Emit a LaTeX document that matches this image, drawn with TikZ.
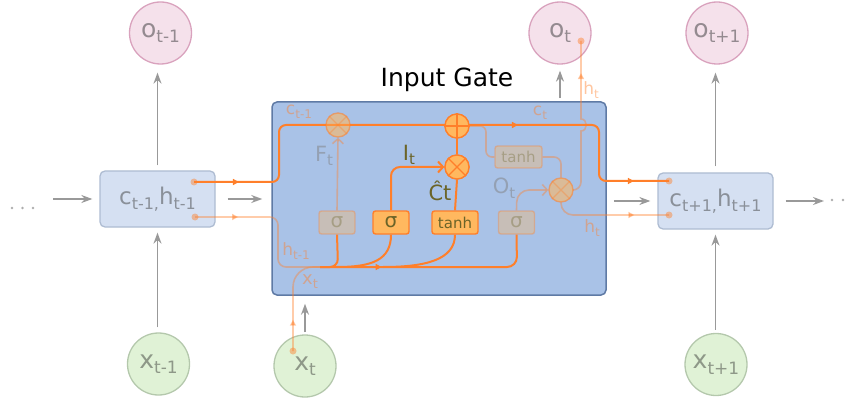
\documentclass[tikz,border=0pt]{standalone}
\usepackage{fontspec}
\setmainfont{DejaVu Sans}
\usetikzlibrary{arrows.meta,decorations.markings}
\definecolor{lstmfill}{HTML}{A9C2E7}
\definecolor{lstmdraw}{HTML}{5F7AA5}
\definecolor{cellfill}{HTML}{D5E0F2}
\definecolor{celldraw}{HTML}{AEBCD2}
\definecolor{celltext}{HTML}{8A9099}
\definecolor{ofill}{HTML}{F5E1EB}
\definecolor{odraw}{HTML}{D9A2BD}
\definecolor{otext}{HTML}{948A90}
\definecolor{xfill}{HTML}{E0F2D6}
\definecolor{xdraw}{HTML}{B4C8AC}
\definecolor{xtext}{HTML}{8E9888}
\definecolor{org}{HTML}{FF7F2A}
\definecolor{orgfill}{HTML}{FFB85F}
\definecolor{olive}{HTML}{6B6428}
\definecolor{arrgray}{HTML}{999999}
\newcommand\fs[1]{\fontsize{#1}{#1}\selectfont}
\newcommand\mysub[2]{\raisebox{-0.22em}{\fs{#1}#2}}
\tikzset{
  garrow/.style={draw=arrgray, line width=1.5pt, -{Stealth[length=11pt,width=8pt]}},
  ocirc/.style={circle, minimum size=62pt, inner sep=0pt, fill=ofill, draw=odraw, line width=1.3pt, text=otext, font=\fs{25}},
  xcirc/.style={circle, minimum size=62pt, inner sep=0pt, fill=xfill, draw=xdraw, line width=1.3pt, text=xtext, font=\fs{25}},
  cellbox/.style={rectangle, rounded corners=5pt, minimum width=115pt, minimum height=56pt, fill=cellfill, draw=celldraw, line width=1.3pt, text=celltext, font=\fs{23}, inner sep=0pt},
  lstm/.style={rectangle, rounded corners=5pt, minimum width=334pt, minimum height=193pt, fill=lstmfill, draw=lstmdraw, line width=1.5pt},
  gatebox/.style={rectangle, rounded corners=2.5pt, minimum height=23pt, inner sep=0pt, fill=orgfill, draw=org, line width=1.4pt, text=olive},
  faded/.style={opacity=0.35},
  opcirc/.style={circle, minimum size=24pt, inner sep=0pt, fill=orgfill, draw=org, line width=1.3pt},
  xmark/.style={draw=org, line width=1.2pt},
  cline/.style={draw=org, line width=2pt},
  fline/.style={draw=org, draw opacity=0.4, fill opacity=0.4, line width=1.6pt},
  dotn/.style={circle, fill=org, fill opacity=0.45, inner sep=0pt, minimum size=7pt},
  openarrow/.style={-{Straight Barb[length=5pt,width=11pt]}},
  mk/.style={postaction={decorate, decoration={markings, mark=at position #1 with {\arrow{Triangle[length=6pt,width=6pt]}}}}},
  flabel/.style={text=org, text opacity=0.45},
  glabel/.style={text=gray, text opacity=0.5},
}
\begin{document}
\begin{tikzpicture}[x=1pt,y=-1pt]
\useasboundingbox (0,0) rectangle (849,401);

% outer nodes
\node[ocirc] (o1) at (160.5,33) {o\mysub{17}{t-1}};
\node[ocirc] (o2) at (560,33) {o\mysub{17}{t}};
\node[ocirc] (o3) at (717,33) {o\mysub{17}{t+1}};
\node[xcirc] (x1) at (158.5,364) {x\mysub{17}{t-1}};
\node[xcirc] (x2) at (305,366) {x\mysub{17}{t}};
\node[xcirc] (x3) at (716,364.5) {x\mysub{17}{t+1}};
\node[cellbox] (c1) at (157.5,199) {c\mysub{16}{t-1,}h\mysub{16}{t-1}};
\node[cellbox] (c2) at (715.5,201) {c\mysub{16}{t+1,}h\mysub{16}{t+1}};
\node[lstm] (L) at (439,198.5) {};
\node[font=\fs{25}] (title) at (447,80) {Input Gate};

% ellipses
\fill[arrgray!80] (12,208) circle (1.4) (22.5,208) circle (1.4) (33,208) circle (1.4);
\fill[arrgray!80] (832,200) circle (1.4) (843,200) circle (1.4);
\coordinate (dl) at (53,199);
\coordinate (dr) at (824,200);

% gray arrows
\draw[garrow, shorten >=7pt] (dl) -- (dl -| c1.west);
\draw[garrow, shorten <=12pt, shorten >=9pt] (c1.east) -- (c1.east -| L.west);
\draw[garrow, shorten <=5pt, shorten >=8pt] (c1.north) -- (c1.north |- o1.south);
\draw[garrow, shorten <=5pt, shorten >=5pt] (x1.north -| c1.south) -- (c1.south);
\draw[garrow, shorten <=7pt, shorten >=7pt] (L.east |- c2.west) -- (c2.west);
\draw[garrow, shorten <=12pt] (c2.east) -- (c2.east -| dr);
\draw[garrow, shorten <=6pt, shorten >=8pt] (c2.north) -- (c2.north |- o3.south);
\draw[garrow, shorten <=3pt, shorten >=5pt] (x3.north -| c2.south) -- (c2.south);
\draw[garrow, shorten <=3pt, shorten >=6pt] (o2.south |- L.north) -- (o2.south);
\draw[garrow, shorten <=2pt, shorten >=8pt] (x2.north) -- (x2.north |- L.south);

% dots
\node[dotn] (dc1) at (194,182) {};
\node[dotn] (dh1) at (195,217) {};
\node[dotn] (dc2) at (669,181) {};
\node[dotn] (dh2) at (669,215) {};
\node[dotn] (dx) at (293,351) {};
\node[dotn] (doh) at (581,41) {};
\coordinate (J) at (320,267);

% gate nodes
\node[opcirc, faded] (fx) at (338,125) {};
\node[opcirc] (pl) at (457,126) {};
\node[opcirc] (mi) at (457,167) {};
\node[opcirc, faded] (mo) at (561,190) {};
\node[gatebox, faded, minimum width=36pt, font=\fs{20}] (sf) at (337,222.5) {σ};
\node[gatebox, minimum width=36pt, font=\fs{20}] (si) at (391,222.5) {σ};
\node[gatebox, minimum width=46pt, font=\fs{15}] (tn) at (455,222.5) {tanh};
\node[gatebox, faded, minimum width=36pt, font=\fs{20}] (so) at (516.5,222.5) {σ};
\node[gatebox, faded, minimum width=47pt, minimum height=22pt, font=\fs{15}] (tf) at (518.5,157) {tanh};

% cell state line
\draw[cline, rounded corners=7pt, mk=0.078, mk=0.651, mk=0.939] (dc1.center) -- (279,182) -- (279,125) -- (599,125) -- (599,181) -- (dc2.center);
% hidden / input lines
\draw[fline, rounded corners=8pt, mk=0.257] (dh1.center) -- (278,217) -- (278,267) -- (J);
\draw[fline, rounded corners=20pt, mk=0.306] (dx.center) -- (293,267) -- (J);
% bottom bus
\draw[cline, rounded corners=10pt, mk=0.274] (J) -- (517,267) -- (so.south);
\draw[cline, rounded corners=8pt] (sf.south) -- (338,267) -- (J);
\draw[cline] (si.south) .. controls (391,260) and (372,267) .. (337,267);
\draw[cline] (tn.south) .. controls (455,260) and (425,267) .. (383,267);
% gate to multipliers
\draw[fline, openarrow] (sf.north) -- (fx.south);
\draw[cline, openarrow, rounded corners=9pt] (si.north) -- (391,167) -- (mi.west);
\draw[cline] (tn.north) -- (mi.south);
\draw[cline] (mi.north) -- (pl.south);
\draw[fline, rounded corners=6pt] (pl.east) -- (486,126) -- (486,157) -- (tf.west);
\draw[fline, rounded corners=7pt] (tf.east) -- (561,157) -- (mo.north);
\draw[fline, openarrow, rounded corners=12pt] (so.north) -- (517,190) -- (mo.west);
% output h_t
\draw[fline, mk=0.80] (mo.east) [rounded corners=8pt] -- (581,190) [sharp corners] -- (581,131) .. controls (588,131) and (588,119) .. (581,119) -- (doh.center);
\draw[fline, rounded corners=12pt, mk=0.70] (mo.south) -- (561,215) -- (dh2.center);

% redraw gate symbols on top
\node[opcirc, faded] at (fx) {};
\node[opcirc] at (pl) {};
\node[opcirc] at (mi) {};
\node[opcirc, faded] at (mo) {};
\draw[xmark, draw opacity=0.35] (fx.45) -- (fx.225) (fx.135) -- (fx.315);
\draw[xmark] (mi.45) -- (mi.225) (mi.135) -- (mi.315);
\draw[xmark, draw opacity=0.35] (mo.45) -- (mo.225) (mo.135) -- (mo.315);
\draw[xmark] (pl.north) -- (pl.south) (pl.west) -- (pl.east);

% labels
\node[flabel, font=\fs{17}] (lc1) at (299,112) {c\mysub{12}{t-1}};
\node[glabel, font=\fs{21}] (lF) at (324,156) {F\mysub{15}{t}};
\node[text=olive, font=\fs{21}] (lI) at (409,155) {I\mysub{15}{t}};
\node[text=olive, font=\fs{21}] (lC) at (440,191) {Ĉt};
\node[glabel, font=\fs{21}] (lO) at (504,188) {O\mysub{15}{t}};
\node[flabel, font=\fs{17}] (lct) at (540,113) {c\mysub{12}{t}};
\node[flabel, font=\fs{17}] (lht) at (592,228) {h\mysub{12}{t}};
\node[flabel, font=\fs{17}] (lh1) at (296,251) {h\mysub{12}{t-1}};
\node[flabel, font=\fs{18}] (lxt) at (310,282) {x\mysub{13}{t}};
\node[flabel, font=\fs{17}] (lht2) at (591,90) {h\mysub{12}{t}};
\end{tikzpicture}
\end{document}
